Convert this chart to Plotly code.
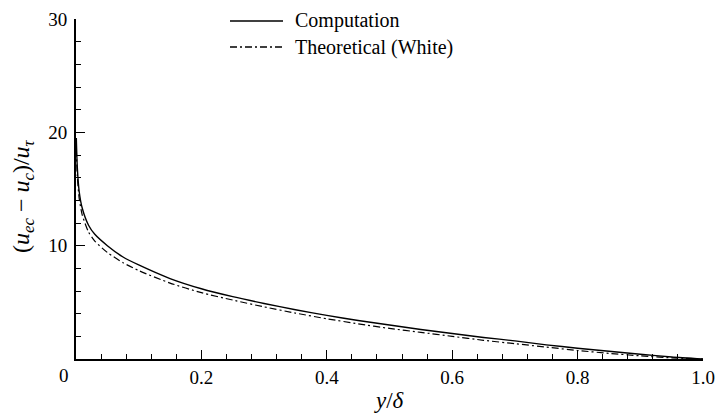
import plotly.graph_objects as go

# ---- data ----
eta = [0.0005, 0.002, 0.005, 0.01, 0.02, 0.03, 0.05, 0.075, 0.1, 0.15, 0.2, 0.25, 0.3,
       0.35, 0.4, 0.45, 0.5, 0.55, 0.6, 0.65, 0.7, 0.75, 0.8, 0.85, 0.9, 0.95, 1.0]
computation = [19.5, 17.0, 14.8, 13.3, 11.8, 11.0, 10.0, 9.0, 8.3, 7.1, 6.2, 5.5, 4.9,
               4.35, 3.85, 3.4, 3.0, 2.6, 2.25, 1.9, 1.6, 1.25, 0.95, 0.68, 0.42, 0.18, 0.0]
theoretical = [18.5, 16.2, 14.2, 12.7, 11.2, 10.4, 9.4, 8.5, 7.8, 6.7, 5.85, 5.2, 4.6,
               4.05, 3.55, 3.1, 2.7, 2.35, 2.0, 1.65, 1.35, 1.05, 0.75, 0.5, 0.28, 0.1, 0.0]

series_names = ["Computation", "Theoretical (White)"]
xtick_vals = [0, 0.2, 0.4, 0.6, 0.8, 1.0]
xtick_text = ["0", "0.2", "0.4", "0.6", "0.8", "1.0"]
ytick_vals = [10, 20, 30]
ytick_text = ["10", "20", "30"]

FONT = "Liberation Serif, 'Times New Roman', Times, serif"
DASHDOT = "7px,3px,2px,3px"

fig = go.Figure()
fig.add_trace(go.Scatter(x=eta, y=computation, mode="lines", name=series_names[0],
                         line=dict(color="black", width=1.4, shape="spline", smoothing=0.6)))
fig.add_trace(go.Scatter(x=eta, y=theoretical, mode="lines", name=series_names[1],
                         line=dict(color="black", width=1.2, dash=DASHDOT,
                                   shape="spline", smoothing=0.6)))

# plot-area geometry in pixels
W, H = 720, 415
L, R, T, B = 76, 17, 19, 56
pw, ph = W - L - R, H - T - B

def px_x(p):
    return (p - L) / pw

def px_y(p):
    return (H - B - p) / ph

# legend drawn manually (long line samples like the reference)
leg_rows = [(21, "solid"), (47, DASHDOT)]
for (ypx, dash), name in zip(leg_rows, series_names):
    fig.add_shape(type="line", xref="paper", yref="paper",
                  x0=px_x(230), x1=px_x(283), y0=px_y(ypx), y1=px_y(ypx),
                  line=dict(color="black", width=1.3, dash=dash))
    fig.add_annotation(text=name, xref="paper", yref="paper",
                       x=px_x(293), y=px_y(ypx), xanchor="left", yanchor="middle",
                       showarrow=False, font=dict(family=FONT, size=20, color="black"))

# x tick label "0" is set slightly left of the axis in the reference
fig.add_annotation(text=xtick_text[0], xref="paper", yref="paper",
                   x=px_x(63.5), y=px_y(375), xanchor="center", yanchor="middle",
                   showarrow=False, font=dict(family=FONT, size=19, color="black"))

# axis titles
fig.add_annotation(text="<i>y</i>/<i>δ</i>", xref="paper", yref="paper",
                   x=px_x(389), y=px_y(400), xanchor="center", yanchor="middle",
                   showarrow=False, font=dict(family=FONT, size=23, color="black"))
fig.add_annotation(text="(<i>u</i><sub><i>ec</i></sub> − <i>u</i><sub><i>c</i></sub>)/<i>u</i><sub><i>τ</i></sub>",
                   xref="paper", yref="paper", textangle=-90,
                   x=px_x(23), y=px_y(196), xanchor="center", yanchor="middle",
                   showarrow=False, font=dict(family=FONT, size=24, color="black"))

axis_common = dict(showgrid=False, zeroline=False, showline=True, linecolor="black",
                   linewidth=2, ticks="inside", ticklen=9, tickwidth=1.3, tickcolor="black",
                   tickfont=dict(family=FONT, size=19, color="black"), mirror=False)

fig.update_xaxes(range=[0, 1], tickvals=xtick_vals[1:], ticktext=xtick_text[1:],
                 minor=dict(dtick=0.04, tick0=0, ticks="inside", ticklen=5, tickwidth=1,
                            tickcolor="black", showgrid=False),
                 **axis_common)
fig.update_yaxes(range=[0, 30], tickvals=ytick_vals, ticktext=ytick_text,
                 ticklabelstandoff=3,
                 minor=dict(dtick=2, tick0=0, ticks="inside", ticklen=5, tickwidth=1,
                            tickcolor="black", showgrid=False),
                 **axis_common)

fig.update_layout(width=W, height=H, margin=dict(l=L, r=R, t=T, b=B, autoexpand=False),
                  plot_bgcolor="white", paper_bgcolor="white", showlegend=False,
                  font=dict(family=FONT, color="black"))

fig.write_html("out.html", config={"displayModeBar": False},
               post_script="document.body.style.margin='0px';")
